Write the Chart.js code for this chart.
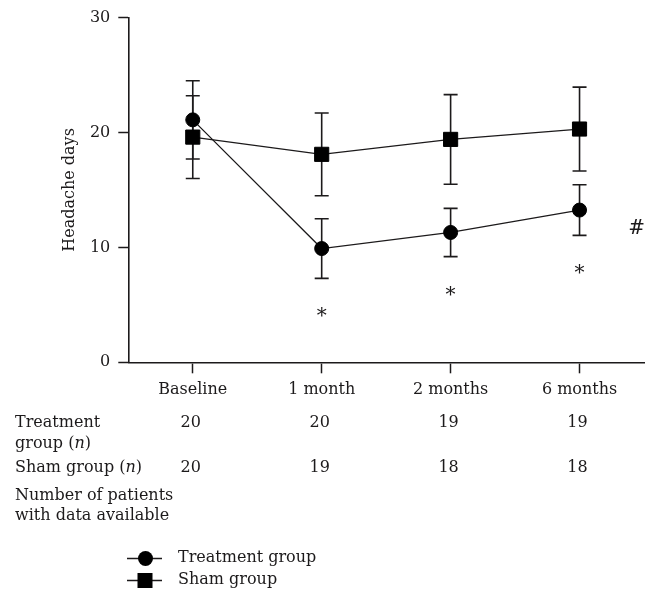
<!DOCTYPE html>
<html>
<head>
<meta charset="utf-8">
<script src="https://cdn.jsdelivr.net/npm/chart.js@4.4.1/dist/chart.umd.min.js"></script>
<style>
  html, body { margin: 0; padding: 0; background: #ffffff; }
  #wrap { width: 655px; height: 601px; }
</style>
</head>
<body>
<div id="wrap"><canvas id="c" width="655" height="601"></canvas></div>
<script>
// ---- Data ----
const categories = ['Baseline', '1 month', '2 months', '6 months'];
const treatmentMean = [21.1, 9.9, 11.3, 13.25];
const treatmentSD = [3.4, 2.6, 2.1, 2.2];
const shamMean = [19.6, 18.1, 19.4, 20.3];
const shamSD = [3.6, 3.6, 3.9, 3.65];
const treatmentN = [20, 20, 19, 19];
const shamN = [20, 19, 18, 18];
const treatmentSig = ['', '*', '*', '*'];
const groupSig = '#';
const yTicks = [0, 10, 20, 30];

const INK = '#1c1a1b';
const FONT = '"DejaVu Serif"';

// ---- Error bars ----
const errorBarPlugin = {
  id: 'errorBars',
  beforeDatasetsDraw(chart) {
    const ctx = chart.ctx, xs = chart.scales.x, ys = chart.scales.y;
    const sets = [[treatmentMean, treatmentSD], [shamMean, shamSD]];
    ctx.save();
    ctx.strokeStyle = INK;
    ctx.lineWidth = 1.6;
    sets.forEach(([m, sd]) => {
      m.forEach((v, i) => {
        const x = xs.getPixelForValue(i);
        const yt = ys.getPixelForValue(v + sd[i]);
        const yb = ys.getPixelForValue(v - sd[i]);
        ctx.beginPath();
        ctx.moveTo(x, yt); ctx.lineTo(x, yb);
        ctx.moveTo(x - 7, yt); ctx.lineTo(x + 7, yt);
        ctx.moveTo(x - 7, yb); ctx.lineTo(x + 7, yb);
        ctx.stroke();
      });
    });
    ctx.restore();
  }
};

function drawCentered(ctx, text, cx, cy) {
  const m = ctx.measureText(text);
  const asc = m.actualBoundingBoxAscent, desc = m.actualBoundingBoxDescent;
  ctx.textAlign = 'center';
  ctx.textBaseline = 'alphabetic';
  ctx.fillText(text, cx, cy + (asc - desc) / 2);
}

function drawN(ctx, before, x, y) {
  ctx.font = '16px ' + FONT;
  ctx.textAlign = 'left';
  ctx.fillText(before + '(', x, y);
  let w = ctx.measureText(before + '(').width;
  ctx.font = 'italic 16px ' + FONT;
  ctx.fillText('n', x + w, y);
  w += ctx.measureText('n').width;
  ctx.font = '16px ' + FONT;
  ctx.fillText(')', x + w, y);
}

// ---- Annotations, table and legend ----
const extrasPlugin = {
  id: 'extras',
  afterDraw(chart) {
    const ctx = chart.ctx, xs = chart.scales.x, ys = chart.scales.y;
    ctx.save();
    ctx.fillStyle = INK;

    // significance asterisks below treatment error bars
    ctx.font = '20px ' + FONT;
    treatmentSig.forEach((s, i) => {
      if (!s) return;
      const x = xs.getPixelForValue(i);
      const yb = ys.getPixelForValue(treatmentMean[i] - treatmentSD[i]);
      drawCentered(ctx, s, x, yb + 34);
    });
    // group difference marker
    ctx.font = 'italic 20px ' + FONT;
    const last = categories.length - 1;
    drawCentered(ctx, groupSig, xs.getPixelForValue(last) + 57,
      ys.getPixelForValue(treatmentMean[last]) + 16.5);

    // patient table
    ctx.font = '16px ' + FONT;
    ctx.textBaseline = 'alphabetic';
    ctx.textAlign = 'left';
    const base = chart.chartArea.bottom;
    ctx.fillText('Treatment', 15, base + 65);
    drawN(ctx, 'group ', 15, base + 86);
    drawN(ctx, 'Sham group ', 15, base + 110);
    ctx.font = '16px ' + FONT;
    ctx.textAlign = 'left';
    ctx.fillText('Number of patients', 15, base + 138);
    ctx.fillText('with data available', 15, base + 158);
    ctx.textAlign = 'center';
    categories.forEach((c, i) => {
      const x = xs.getPixelForValue(i) - 2;
      ctx.fillText(String(treatmentN[i]), x, base + 65);
      ctx.fillText(String(shamN[i]), x, base + 110);
    });

    // legend
    const items = [
      { label: 'Treatment group', style: 'circle', y: 558.5 },
      { label: 'Sham group', style: 'rect', y: 580.5 }
    ];
    items.forEach(it => {
      ctx.strokeStyle = INK;
      ctx.lineWidth = 1.6;
      ctx.beginPath();
      ctx.moveTo(127, it.y); ctx.lineTo(162, it.y);
      ctx.stroke();
      ctx.fillStyle = '#000';
      if (it.style === 'circle') {
        ctx.beginPath();
        ctx.arc(145.5, it.y, 7.5, 0, Math.PI * 2);
        ctx.fill();
      } else {
        ctx.fillRect(145 - 7.5, it.y - 7.5, 15, 15);
      }
      ctx.fillStyle = INK;
      ctx.font = '16px ' + FONT;
      ctx.textAlign = 'left';
      ctx.textBaseline = 'middle';
      ctx.fillText(it.label, 178, it.y - 0.5);
    });
    ctx.restore();
  }
};

new Chart(document.getElementById('c'), {
  type: 'line',
  data: {
    labels: categories,
    datasets: [
      {
        label: 'Treatment group',
        data: treatmentMean,
        borderColor: INK,
        borderWidth: 1.3,
        pointStyle: 'circle',
        pointRadius: 7,
        pointBorderWidth: 1,
        pointBackgroundColor: '#000',
        pointBorderColor: '#000',
        tension: 0,
        fill: false
      },
      {
        label: 'Sham group',
        data: shamMean,
        borderColor: INK,
        borderWidth: 1.3,
        pointStyle: 'rect',
        pointRadius: 10,
        pointBorderWidth: 1,
        pointBackgroundColor: '#000',
        pointBorderColor: '#000',
        tension: 0,
        fill: false
      }
    ]
  },
  options: {
    responsive: false,
    animation: false,
    devicePixelRatio: 1,
    layout: { padding: { left: 60, right: 7.7, top: 15.7, bottom: 0 } },
    plugins: {
      legend: { display: false },
      tooltip: { enabled: false }
    },
    scales: {
      x: {
        type: 'category',
        offset: true,
        grid: {
          offset: false,
          drawOnChartArea: false,
          drawTicks: true,
          tickLength: 11,
          tickWidth: 1.5,
          tickColor: INK
        },
        border: { color: INK, width: 1.6 },
        ticks: {
          color: INK,
          font: { family: FONT, size: 16 },
          padding: 7,
          maxRotation: 0,
          autoSkip: false
        },
        afterFit(scale) { scale.height = 601 - 362.3; }
      },
      y: {
        min: 0,
        max: 30,
        afterBuildTicks(scale) { scale.ticks = yTicks.map(v => ({ value: v })); },
        grid: {
          drawOnChartArea: false,
          drawTicks: true,
          tickLength: 10,
          tickWidth: 1.5,
          tickColor: INK
        },
        border: { color: INK, width: 1.6 },
        ticks: {
          color: INK,
          font: { family: FONT, size: 16 },
          padding: 8
        },
        title: {
          display: true,
          text: 'Headache days',
          color: INK,
          font: { family: FONT, size: 16 },
          padding: { top: 0, bottom: 0 }
        },
        afterFit(scale) { scale.width = 68.3; }
      }
    }
  },
  plugins: [errorBarPlugin, extrasPlugin]
});
</script>
</body>
</html>
